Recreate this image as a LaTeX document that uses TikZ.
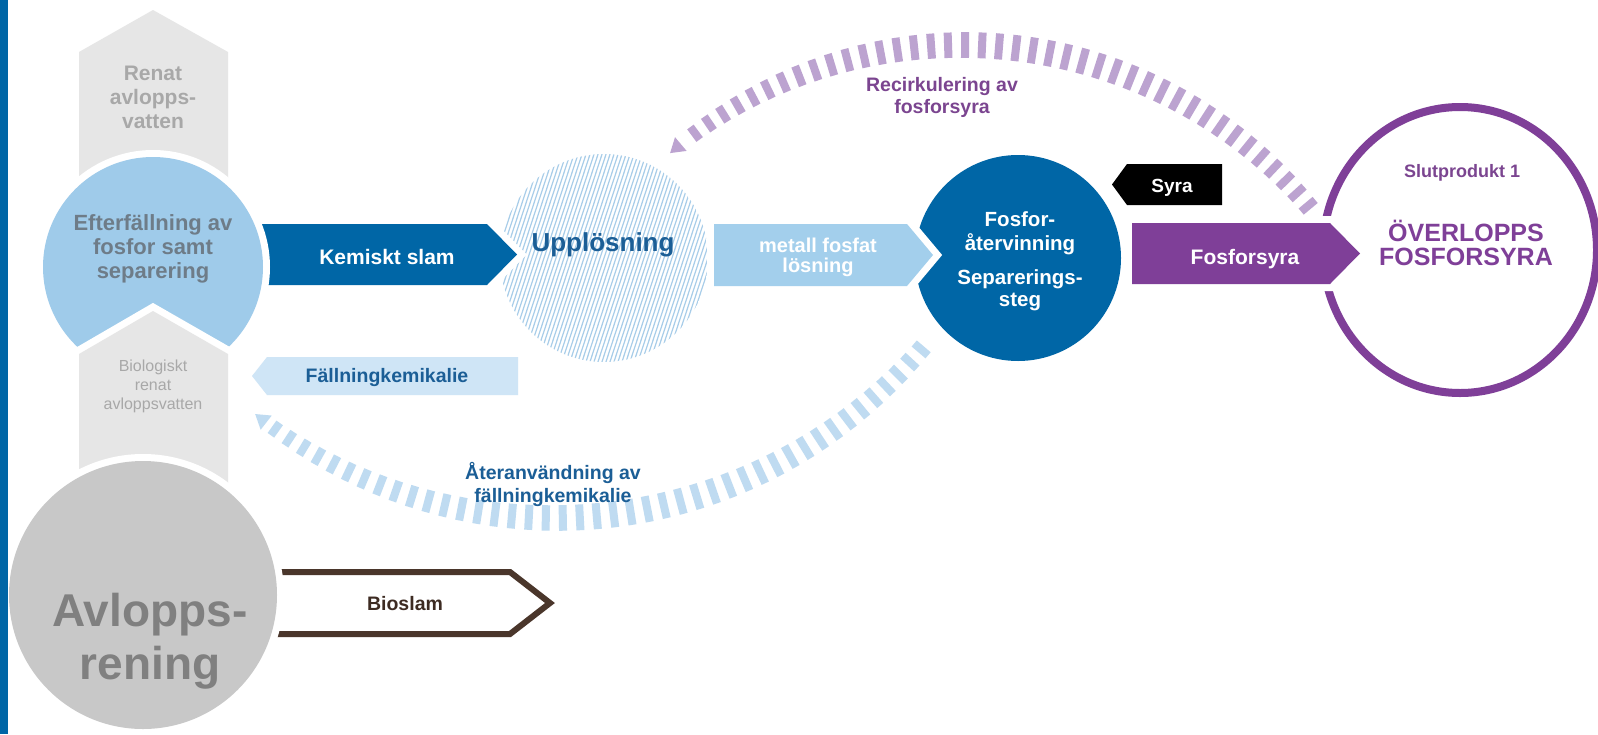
\documentclass[tikz,border=0pt]{standalone}
\usepackage{fontspec}
\setmainfont{Liberation Sans}
\usetikzlibrary{decorations.markings}
\definecolor{dblue}{HTML}{0066A6}
\definecolor{lbcirc}{HTML}{9FCBEA}
\definecolor{lbarrow}{HTML}{A3CFEC}
\definecolor{paleblue}{HTML}{CFE5F6}
\definecolor{hatchc}{HTML}{A8CDE9}
\definecolor{arcblue}{HTML}{BFDBF1}
\definecolor{purp}{HTML}{7F3F98}
\definecolor{arcpurp}{HTML}{BCA3D0}
\definecolor{purptext}{HTML}{7B4590}
\definecolor{chevgray}{HTML}{E6E6E6}
\definecolor{chevtext}{HTML}{A8A8A8}
\definecolor{biggray}{HTML}{C8C8C8}
\definecolor{bigtext}{HTML}{808080}
\definecolor{efttext}{HTML}{6E7C88}
\definecolor{textblue}{HTML}{1B5E96}
\definecolor{bioBrown}{HTML}{4A362B}
\definecolor{bioText}{HTML}{3D2B22}
\newcommand\fsz[1]{\fontsize{#1}{#1}\selectfont}
\tikzset{
  barsdeco/.style={
    decoration={markings,
      mark=between positions 6pt and -22pt step 17pt with {%
        \pgfmathsetmacro\barf{\pgfkeysvalueof{/pgf/decoration/mark info/distance from start}/\pgfdecoratedpathlength}%
        \pgfmathsetmacro\barh{7+5*sin(180*\barf)+2*(1-\barf)}%
        \fill[#1] (-4pt,{-\barh*1pt}) rectangle (4pt,{\barh*1pt});%
      },
      mark=at position -1pt with {\fill[#1] (1pt,0pt) -- (-13pt,9pt) -- (-13pt,-9pt) -- cycle;}
    },
    postaction={decorate}
  },
  lbl/.style={inner sep=0pt, anchor=base},
  knock/.style={preaction={draw=white, line width=14pt, line join=miter}},
  hatchline/.style={draw=hatchc, line width=1.2pt}
}
\begin{document}
\begin{tikzpicture}[x=1pt, y=-1pt]
\useasboundingbox (0,0) rectangle (1598,734);
\fill[white] (0,0) rectangle (1598,734);

% Upploesning hatched circle
\begin{scope}
  \clip (604,258) circle [radius=104];
  \foreach \i in {-180,-176,...,180} \draw[hatchline] (604+\i-40,380) -- (604+\i+40,136);
\end{scope}
\coordinate (uppc) at (604,258);

% recirculation arcs
\path[barsdeco=arcpurp] plot[domain=-39.3:-130.5, samples=80, smooth] ({963+451*cos(\x)}, {496+451*sin(\x)});
\path[barsdeco=arcblue] plot[domain=39.9:128.3, samples=80, smooth] ({554.5+483*cos(\x)}, {35+483*sin(\x)});

% Fosforaatervinning circle
\fill[dblue] (1018,258) circle [radius=103];
\coordinate (fosc) at (1018,258);
% Slutprodukt ring
\draw[purp, line width=8pt] (1460,250) ellipse [x radius=137, y radius=143];

% arrows
\fill[dblue, knock] (240,224) -- (487,224) -- (517,254.5) -- (487,285) -- (240,285) -- cycle;
\fill[lbarrow, knock] (714,224) -- (907,224) -- (933,255) -- (907,286) -- (714,286) -- cycle;
\fill[purp, knock] (1132,223) -- (1330,223) -- (1360,253.5) -- (1330,284) -- (1132,284) -- cycle;
\fill[black] (1112,184.5) -- (1127,164) -- (1222,164) -- (1222,205) -- (1127,205) -- cycle;
\fill[paleblue] (252,376) -- (267,357) -- (518,357) -- (518,395) -- (267,395) -- cycle;
\draw[bioBrown, line width=6pt, line join=miter] (255,572) -- (510,572) -- (550,603) -- (510,634) -- (255,634);

% left column
\fill[chevgray] (79,52) -- (153,10) -- (228,52) -- (228,230) -- (79,230) -- cycle;
\fill[lbcirc, knock] (153,267) circle [radius=110];
\fill[chevgray, knock] (79,354) -- (153,311) -- (228,354) -- (228,500) -- (79,500) -- cycle;
\fill[biggray, knock] (143,595) circle [radius=134];

% left bar
\fill[dblue] (0,0) rectangle (8,734);

% texts
\node[lbl, font=\fsz{21}\bfseries, text=chevtext] (ren1) at (153,80) {Renat};
\node[lbl, font=\fsz{21}\bfseries, text=chevtext] (ren2) at (153,104) {avlopps-};
\node[lbl, font=\fsz{21}\bfseries, text=chevtext] (ren3) at (153,128) {vatten};

\node[lbl, font=\fsz{22}\bfseries, text=efttext] (eft1) at (153,230) {Efterfällning av};
\node[lbl, font=\fsz{22}\bfseries, text=efttext] (eft2) at (153,254) {fosfor samt};
\node[lbl, font=\fsz{22}\bfseries, text=efttext] (eft3) at (153,278) {separering};

\node[lbl, font=\fsz{16}, text=chevtext] (bio1) at (153,371) {Biologiskt};
\node[lbl, font=\fsz{16}, text=chevtext] (bio2) at (153,390) {renat};
\node[lbl, font=\fsz{16}, text=chevtext] (bio3) at (153,409) {avloppsvatten};

\node[lbl, font=\fsz{46}\bfseries, text=bigtext] (avl1) at (150,626) {Avlopps-};
\node[lbl, font=\fsz{46}\bfseries, text=bigtext] (avl2) at (150,679) {rening};

\node[lbl, font=\fsz{19.5}\bfseries, text=bioText] (bioslam) at (405,610) {Bioslam};
\node[lbl, font=\fsz{21}\bfseries, text=white] (kemiskt) at (387,264) {Kemiskt slam};
\node[lbl, font=\fsz{26}\bfseries, text=textblue] (upp) at (603,251) {Upplösning};
\node[lbl, font=\fsz{20}\bfseries, text=white] (met1) at (818,252) {metall fosfat};
\node[lbl, font=\fsz{20}\bfseries, text=white] (met2) at (818,272) {lösning};

\node[lbl, font=\fsz{20.5}\bfseries, text=white] (fos1) at (1020,226) {Fosfor-};
\node[lbl, font=\fsz{20.5}\bfseries, text=white] (fos2) at (1020,250) {återvinning};
\node[lbl, font=\fsz{20.5}\bfseries, text=white] (fos3) at (1020,284) {Separerings-};
\node[lbl, font=\fsz{20.5}\bfseries, text=white] (fos4) at (1020,306) {steg};

\node[lbl, font=\fsz{19}\bfseries, text=white] (syra) at (1172,192) {Syra};
\node[lbl, font=\fsz{21}\bfseries, text=white] (fosforsyra) at (1245,264) {Fosforsyra};

\node[lbl, font=\fsz{18}\bfseries, text=purptext] (slut) at (1462,177) {Slutprodukt 1};
\node[lbl, font=\fsz{25}\bfseries, text=purp] (over1) at (1466,241) {ÖVERLOPPS};
\node[lbl, font=\fsz{25}\bfseries, text=purp] (over2) at (1466,265) {FOSFORSYRA};

\node[lbl, font=\fsz{19.5}\bfseries, text=purptext] (rec1) at (942,91) {Recirkulering av};
\node[lbl, font=\fsz{19.5}\bfseries, text=purptext] (rec2) at (942,113) {fosforsyra};

\node[lbl, font=\fsz{19.5}\bfseries, text=textblue] (fall) at (387,382) {Fällningkemikalie};
\node[lbl, font=\fsz{19.5}\bfseries, text=textblue] (ater1) at (553,479) {Återanvändning av};
\node[lbl, font=\fsz{19.5}\bfseries, text=textblue] (ater2) at (553,502) {fällningkemikalie};
\end{tikzpicture}
\end{document}
